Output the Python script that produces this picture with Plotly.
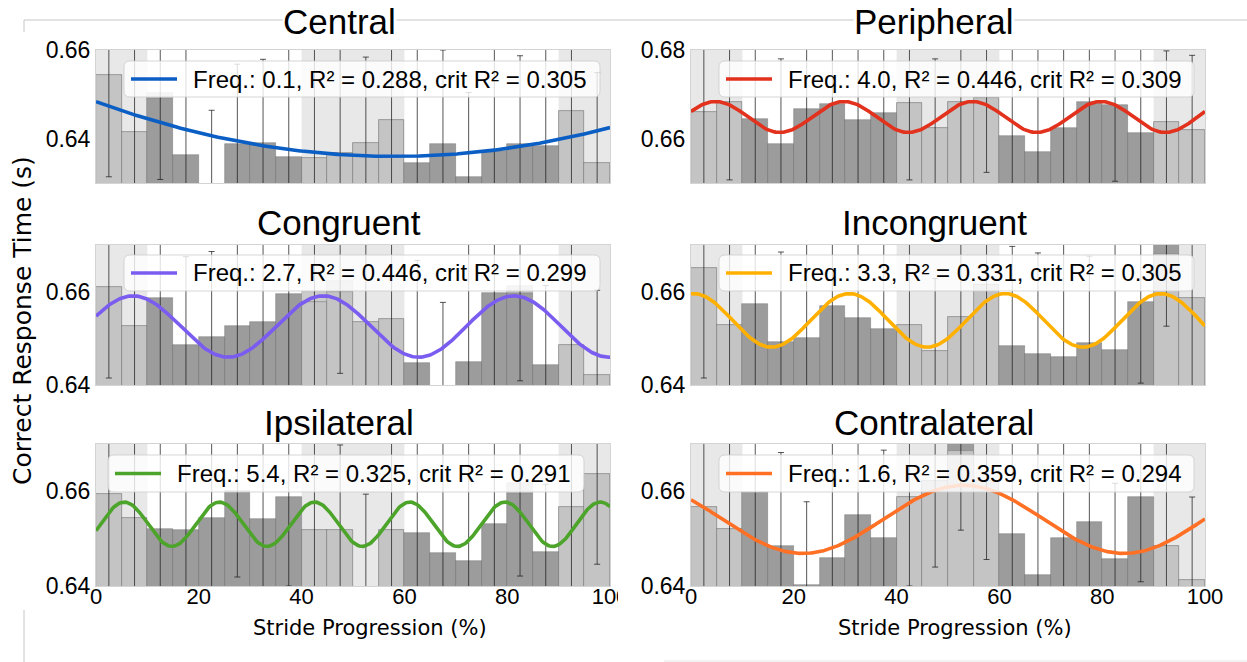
import numpy as np
import plotly.graph_objects as go

FIG_W, FIG_H = 1247, 662

# ---- data -----------------------------------------------------------------
stride_bins = [2.5, 7.5, 12.5, 17.5, 22.5, 27.5, 32.5, 37.5, 42.5, 47.5,
               52.5, 57.5, 62.5, 67.5, 72.5, 77.5, 82.5, 87.5, 92.5, 97.5]
bin_width = 5
x_ticks = [0, 20, 40, 60, 80, 100]
shaded_phases = [(0, 10), (40, 60), (90, 100)]

conditions = ["Central", "Peripheral", "Congruent",
              "Incongruent", "Ipsilateral", "Contralateral"]

central_rt = [0.6543, 0.6416, 0.6492, 0.6363, 0.6292, 0.6387, 0.6391, 0.6358, 0.6356, 0.6368,
              0.6391, 0.6441, 0.6345, 0.6387, 0.6313, 0.6372, 0.6389, 0.6383, 0.6463, 0.6345]
central_err = [0.0229, 0.0210, 0.0184, 0.0250, 0.0172, 0.0181, 0.0188, 0.0250, 0.0250, 0.0240,
               0.0193, 0.0200, 0.0260, 0.0213, 0.0191, 0.0240, 0.0198, 0.0240, 0.0200, 0.0204]

peripheral_rt = [0.6661, 0.6682, 0.6645, 0.6589, 0.6666, 0.6678, 0.6641, 0.6658, 0.6681, 0.6625,
                 0.6682, 0.6692, 0.6605, 0.6569, 0.6623, 0.6682, 0.6675, 0.6613, 0.6637, 0.6619]
peripheral_err = [0.0190, 0.0175, 0.0190, 0.0191, 0.0190, 0.0190, 0.0190, 0.0190, 0.0174, 0.0155,
                  0.0190, 0.0168, 0.0210, 0.0250, 0.0190, 0.0190, 0.0171, 0.0200, 0.0161, 0.0169]

congruent_rt = [0.6610, 0.6527, 0.6586, 0.6486, 0.6503, 0.6527, 0.6534, 0.6596, 0.6578, 0.6600,
                0.6536, 0.6542, 0.6447, 0.6395, 0.6450, 0.6597, 0.6597, 0.6443, 0.6485, 0.6422]
congruent_err = [0.0195, 0.0210, 0.0210, 0.0189, 0.0183, 0.0210, 0.0210, 0.0220, 0.0210, 0.0175,
                 0.0200, 0.0200, 0.0220, 0.0182, 0.0260, 0.0220, 0.0188, 0.0170, 0.0230, 0.0181]

incongruent_rt = [0.6651, 0.6528, 0.6573, 0.6493, 0.6501, 0.6569, 0.6544, 0.6521, 0.6529, 0.6473,
                  0.6546, 0.6614, 0.6483, 0.6466, 0.6461, 0.6491, 0.6476, 0.6577, 0.6712, 0.6586]
incongruent_err = [0.0236, 0.0220, 0.0210, 0.0192, 0.0205, 0.0210, 0.0210, 0.0220, 0.0175, 0.0155,
                   0.0200, 0.0230, 0.0214, 0.0217, 0.0250, 0.0185, 0.0240, 0.0173, 0.0186, 0.0210]

ipsilateral_rt = [0.6594, 0.6543, 0.6521, 0.6518, 0.6543, 0.6600, 0.6542, 0.6588, 0.6518, 0.6518,
                  0.6390, 0.6519, 0.6513, 0.6470, 0.6453, 0.6531, 0.6597, 0.6471, 0.6566, 0.6637]
ipsilateral_err = [0.0210, 0.0200, 0.0210, 0.0210, 0.0200, 0.0181, 0.0200, 0.0188, 0.0210, 0.0180,
                   0.0204, 0.0210, 0.0220, 0.0250, 0.0260, 0.0200, 0.0176, 0.0144, 0.0200, 0.0191]

contralateral_rt = [0.6567, 0.6521, 0.6599, 0.6484, 0.6402, 0.6460, 0.6549, 0.6501, 0.6587, 0.6622,
                    0.6710, 0.6622, 0.6509, 0.6424, 0.6501, 0.6535, 0.6458, 0.6589, 0.6484, 0.6412]
contralateral_err = [0.0220, 0.0210, 0.0220, 0.0198, 0.0176, 0.0250, 0.0210, 0.0186, 0.0187, 0.0182,
                     0.0192, 0.0166, 0.0220, 0.0290, 0.0210, 0.0210, 0.0159, 0.0180, 0.0230, 0.0176]

rt_means = [central_rt, peripheral_rt, congruent_rt,
            incongruent_rt, ipsilateral_rt, contralateral_rt]
rt_errs = [central_err, peripheral_err, congruent_err,
           incongruent_err, ipsilateral_err, contralateral_err]

# pale upper segments sitting on top of some bars: (bin index, top value)
pale_tops = [
    [(2, 0.6503)],
    [],
    [(8, 0.6599), (9, 0.6622), (16, 0.6612)],
    [],
    [(16, 0.6618)],
    [],
]

y_ranges = [[0.63, 0.66], [0.65, 0.68], [0.64, 0.67],
            [0.64, 0.67], [0.64, 0.67], [0.64, 0.67]]
y_ticks = [[0.64, 0.66], [0.66, 0.68], [0.64, 0.66],
           [0.64, 0.66], [0.64, 0.66], [0.64, 0.66]]
# upper limit of the pale phase overlay (None = follows the bar)
shade_caps = [None, None, None, 0.668, None, 0.6685]

# sinusoidal fit per condition
fit_freq = [0.1, 4.0, 2.7, 3.3, 5.4, 1.6]
fit_r2 = [0.288, 0.446, 0.446, 0.331, 0.325, 0.359]
fit_crit = [0.305, 0.309, 0.299, 0.305, 0.291, 0.294]
fit_offset = [0.8238, 0.6649, 0.65253, 0.65385, 0.65305, 0.65408]
fit_amp = [-0.1878, 0.00349, 0.00657, 0.00574, 0.00468, 0.0072]
fit_peak = [58.0, 4.8, 7.2, 0.5, 5.5, 53.0]
line_colors = ["#0b5ec4", "#e2311d", "#7b5cf0", "#ffb000", "#4ca42a", "#ff6f24"]

# ---- geometry (pixels) ----------------------------------------------------
col_px = [(96, 610), (691, 1205)]
row_px = [(50, 183), (245, 385), (444, 586)]
title_x = [339, 934]
title_y = [21, 222, 423]
legend_box_x = [(124, 600), (719, 1194), (124, 600), (719, 1194), (108, 584), (719, 1194)]
legend_box_y = [(61, 97), (255, 291), (455, 492)]

BASE_FONT = "Liberation Sans, Arial, sans-serif"
LABEL_FONT = "DejaVu Sans, sans-serif"


def px(x):
    return x / FIG_W


def py(y):
    return 1 - y / FIG_H


def rounded_rect(x0, y0, x1, y1, r):
    pts = [("M", x0 + r, y0), ("L", x1 - r, y0), ("Q", x1, y0, x1, y0 + r),
           ("L", x1, y1 - r), ("Q", x1, y1, x1 - r, y1), ("L", x0 + r, y1),
           ("Q", x0, y1, x0, y1 - r), ("L", x0, y0 + r), ("Q", x0, y0, x0 + r, y0)]
    out = []
    for p in pts:
        cmd, coords = p[0], p[1:]
        pairs = [f"{px(coords[k]):.5f},{py(coords[k + 1]):.5f}" for k in range(0, len(coords), 2)]
        out.append(cmd + " ".join(pairs))
    return " ".join(out) + " Z"


fig = go.Figure()
shapes, annotations = [], []


def in_phase(x):
    return any(a <= x <= b for a, b in shaded_phases)


for i, name in enumerate(conditions):
    r, c = divmod(i, 2)
    n = i + 1
    xa = "x" if n == 1 else f"x{n}"
    ya = "y" if n == 1 else f"y{n}"
    means, errs = rt_means[i], rt_errs[i]

    # data bars
    fig.add_trace(go.Bar(
        x=stride_bins, y=means, width=bin_width, xaxis=xa, yaxis=ya,
        marker=dict(color="#9c9c9c", line=dict(width=0.7, color="rgba(70,70,70,0.45)")),
        showlegend=False, hoverinfo="skip"))

    # pale caps above selected bars
    if pale_tops[i]:
        idx = [k for k, _ in pale_tops[i]]
        fig.add_trace(go.Bar(
            x=[stride_bins[k] for k in idx],
            base=[means[k] for k in idx],
            y=[top - means[k] for k, top in pale_tops[i]],
            width=bin_width, xaxis=xa, yaxis=ya,
            marker=dict(color="#cbcbcb", line=dict(width=0.7, color="rgba(90,90,90,0.3)")),
            showlegend=False, hoverinfo="skip"))

    # pale overlay for the shaded gait phases
    ph_x = [x for x in stride_bins if in_phase(x)]
    ph_y = [m for x, m in zip(stride_bins, means) if in_phase(x)]
    if shade_caps[i] is not None:
        ph_y = [min(v, shade_caps[i]) for v in ph_y]
    fig.add_trace(go.Bar(
        x=ph_x, y=ph_y, width=bin_width, xaxis=xa, yaxis=ya,
        marker=dict(color="rgba(236,236,236,0.5)", line=dict(width=0.7, color="rgba(90,90,90,0.35)")),
        showlegend=False, hoverinfo="skip"))

    # error bars
    fig.add_trace(go.Scatter(
        x=stride_bins, y=means, mode="markers", xaxis=xa, yaxis=ya,
        marker=dict(size=2, color="rgba(0,0,0,0)"),
        error_y=dict(type="data", array=errs, visible=True,
                     color="rgba(30,30,30,0.75)", thickness=1, width=3),
        showlegend=False, hoverinfo="skip"))

    # sinusoidal fit
    xf = np.linspace(0, 100, 401)
    yf = fit_offset[i] + fit_amp[i] * np.cos(2 * np.pi * fit_freq[i] * (xf - fit_peak[i]) / 100)
    fig.add_trace(go.Scatter(
        x=xf, y=yf, mode="lines", xaxis=xa, yaxis=ya,
        line=dict(color=line_colors[i], width=3.6),
        showlegend=False, hoverinfo="skip"))

    x0p, x1p = col_px[c]
    y0p, y1p = row_px[r]
    axis_common = dict(showgrid=False, zeroline=False, showline=True, mirror=True,
                       linecolor="#d4d4d4", linewidth=1, ticks="", automargin=False)
    fig.layout["xaxis" if n == 1 else f"xaxis{n}"] = dict(
        domain=[px(x0p), px(x1p)], range=[0, 100], anchor=ya,
        tickvals=x_ticks, showticklabels=(r == 2), ticklabelstandoff=-9,
        tickfont=dict(family=BASE_FONT, size=22, color="black"), **axis_common)
    fig.layout["yaxis" if n == 1 else f"yaxis{n}"] = dict(
        domain=[py(y1p), py(y0p)], range=y_ranges[i], anchor=xa,
        tickvals=y_ticks[i], tickformat=".2f",
        tickfont=dict(family=BASE_FONT, size=23, color="black"), **axis_common)

    # phase shading behind the bars
    for a, b in shaded_phases:
        shapes.append(dict(type="rect", xref=xa, yref=f"{ya} domain", x0=a, x1=b, y0=0, y1=1,
                           fillcolor="#e8e8e8", line=dict(width=0), layer="below"))

    # title
    annotations.append(dict(text=name, x=px(title_x[c]), y=py(title_y[r]), xref="paper", yref="paper",
                            xanchor="center", yanchor="middle", showarrow=False,
                            font=dict(family=BASE_FONT, size=35, color="black"),
                            bgcolor="white", borderpad=0))

    # legend box
    bx0, bx1 = legend_box_x[i]
    by0, by1 = legend_box_y[r]
    bmid = (by0 + by1) / 2
    shapes.append(dict(type="path", xref="paper", yref="paper", path=rounded_rect(bx0, by0, bx1, by1, 6),
                       fillcolor="rgba(255,255,255,0.8)", line=dict(color="rgba(204,204,204,0.8)", width=1),
                       layer="above"))
    shapes.append(dict(type="line", xref="paper", yref="paper",
                       x0=px(bx0 + 7), x1=px(bx0 + 53), y0=py(bmid), y1=py(bmid),
                       line=dict(color=line_colors[i], width=3.6), layer="above"))
    label = f"Freq.: {fit_freq[i]:.1f}, R² = {fit_r2[i]:.3f}, crit R² = {fit_crit[i]:.3f}"
    annotations.append(dict(text=label, x=px(bx0 + 67), y=py(bmid), xref="paper", yref="paper",
                            xanchor="left", yanchor="middle", showarrow=False,
                            font=dict(family=BASE_FONT, size=24, color="black")))

# axis titles
annotations.append(dict(text="Correct Response Time (s)", x=px(22), y=py(321), xref="paper", yref="paper",
                        textangle=-90, showarrow=False, xanchor="center", yanchor="middle",
                        font=dict(family=LABEL_FONT, size=25, color="black")))
for cx in (370, 955):
    annotations.append(dict(text="Stride Progression (%)", x=px(cx), y=py(628), xref="paper", yref="paper",
                            showarrow=False, xanchor="center", yanchor="middle",
                            font=dict(family=LABEL_FONT, size=21, color="black")))

# thin page frame lines
frame = "#c6c6c6"
shapes += [
    dict(type="line", xref="paper", yref="paper", x0=px(24), x1=1, y0=py(20), y1=py(20),
         line=dict(color=frame, width=1), layer="below"),
    dict(type="line", xref="paper", yref="paper", x0=px(24), x1=px(24), y0=py(20), y1=py(32),
         line=dict(color=frame, width=1), layer="below"),
    dict(type="line", xref="paper", yref="paper", x0=px(24), x1=px(24), y0=py(610), y1=py(662),
         line=dict(color=frame, width=1), layer="below"),
    dict(type="line", xref="paper", yref="paper", x0=px(664), x1=1, y0=py(661), y1=py(661),
         line=dict(color="#e6e6e6", width=1), layer="below"),
    dict(type="rect", xref="paper", yref="paper", x0=px(618), x1=px(636), y0=py(612), y1=py(586),
         fillcolor="white", line=dict(width=0), layer="above"),
]

fig.update_layout(
    width=FIG_W, height=FIG_H,
    margin=dict(l=0, r=0, t=0, b=0, pad=0, autoexpand=False),
    paper_bgcolor="white", plot_bgcolor="white",
    barmode="overlay", bargap=0, showlegend=False,
    shapes=shapes, annotations=annotations,
)

fig.write_html(
    "out.html",
    post_script="document.body.style.margin='0';document.body.style.overflow='hidden';",
)
